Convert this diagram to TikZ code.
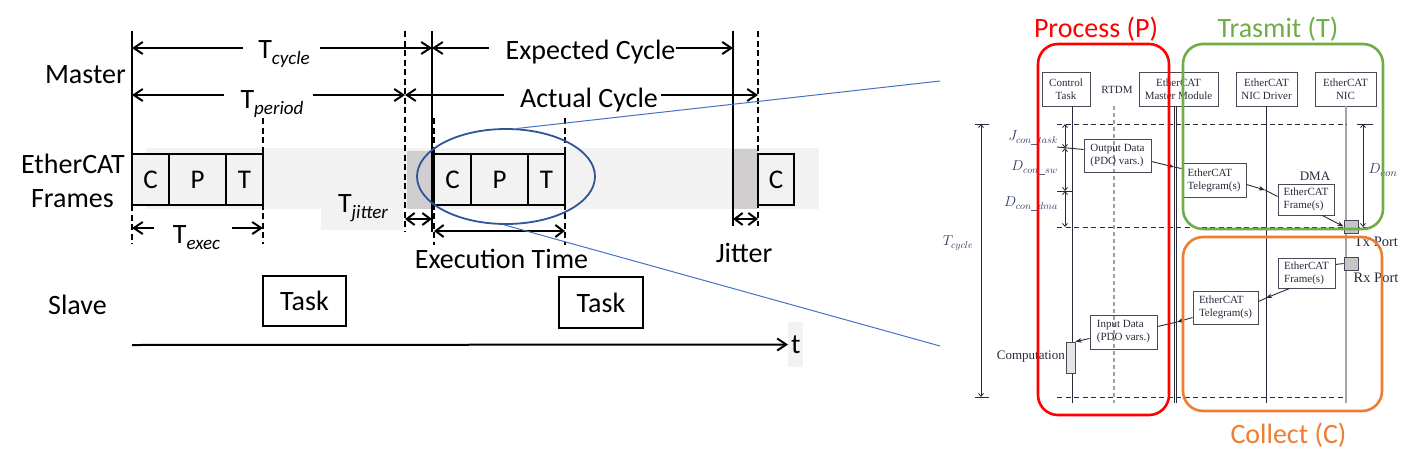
\documentclass[tikz,border=0pt]{standalone}
\usepackage[no-math]{fontspec}
\setmainfont{Carlito}
\newfontfamily\tms{Liberation Serif}
\usetikzlibrary{arrows.meta,calc,shapes.geometric}
\definecolor{band}{HTML}{F2F2F2}
\definecolor{dband}{HTML}{D0CECE}
\definecolor{ellc}{HTML}{2F5597}
\definecolor{zoomln}{HTML}{4472C4}
\definecolor{pgreen}{HTML}{70AD47}
\definecolor{porange}{HTML}{ED7D31}
\definecolor{scan}{RGB}{40,42,58}
\definecolor{scanm}{RGB}{45,55,100}
\newcommand{\Tsub}[1]{T\raisebox{-6pt}{\fontsize{19}{20}\selectfont\itshape #1}}
\tikzset{
  bigtxt/.style={font=\fontsize{28}{34}\selectfont, inner sep=0pt},
  fr/.style={draw, line width=2.6pt, fill=band, minimum height=51pt, inner sep=0pt, outer sep=0pt, anchor=north west, font=\fontsize{27}{30}\selectfont},
  taskbox/.style={draw, line width=2.2pt, minimum height=50pt, inner sep=0pt, font=\fontsize{28}{30}\selectfont},
  dimarrow/.style={line width=2pt, {Straight Barb[length=8pt,width=12pt]}-{Straight Barb[length=8pt,width=12pt]}},
  tipL/.style={line width=2pt, {Straight Barb[length=9pt,width=12pt]}-},
  tipR/.style={line width=2pt, -{Straight Barb[length=9pt,width=12pt]}},
  solidv/.style={line width=2pt},
  dashv/.style={line width=1.8pt, dash pattern=on 6pt off 3.5pt},
  hdrbox/.style={draw=scan!85, line width=1pt, font=\tms\fontsize{11}{13}\selectfont, text=scan, align=center, inner sep=0pt, minimum height=34pt},
  msgbox/.style={draw=scan!85, line width=1pt, font=\tms\fontsize{11}{13}\selectfont, text=scan, align=left, inner sep=0pt},
  sctxt/.style={font=\tms\fontsize{11}{13}\selectfont, text=scan, inner sep=0pt},
  mathlbl/.style={font=\fontsize{14}{16}\selectfont, text=scanm, inner sep=0pt},
  life/.style={scan, line width=0.9pt},
  hdash/.style={scan, line width=0.8pt, dash pattern=on 5pt off 3.5pt},
  msg/.style={scan, line width=0.9pt},
  msgtip/.style={scan, line width=0.9pt, -{Stealth[length=6pt,width=4.5pt,inset=1.5pt]}},
  sdim/.style={scan, line width=0.8pt, {Straight Barb[length=3pt,width=5pt]}-{Straight Barb[length=3pt,width=5pt]}},
  port/.style={draw=scan!85, fill=gray!45, line width=0.8pt, minimum width=14pt, minimum height=13pt, inner sep=0pt},
  grp/.style={line width=2.6pt, rounded corners=20pt},
}
\begin{document}
\begin{tikzpicture}[x=1pt,y=-1pt]
\useasboundingbox (0,0) rectangle (1421,469);

% ---------------- left: timing diagram ----------------
\fill[band] (146,148) rectangle (819,209);
\fill[dband] (407,151) rectangle (432,209);
\fill[dband] (733,149) rectangle (758,209);
\fill[band] (321,209) rectangle (403,230);

% frames
\node[fr, minimum width=37pt] (c1) at (132,154) {C};
\node[fr, minimum width=57pt] (p1) at (169,154) {P};
\node[fr, minimum width=37pt] (t1) at (226,154) {T};
\node[fr, minimum width=37pt] (c2) at (434,154) {C};
\node[fr, minimum width=57pt] (p2) at (471,154) {P};
\node[fr, minimum width=37pt] (t2) at (528,154) {T};
\node[fr, minimum width=36pt] (c3) at (758,154) {C};

% vertical markers
\coordinate (a0) at (132,31); \coordinate (a1) at (132,205); \coordinate (a2) at (132,244);
\draw[solidv] (a0) -- (a1); \draw[dashv] (a1) -- (a2);
\coordinate (b0) at (405,31); \coordinate (b1) at (405,232);
\draw[dashv] (b0) -- (b1);
\coordinate (k0) at (432,31); \coordinate (k1) at (432,232);
\draw[solidv] (k0) -- (k1);
\coordinate (d1a) at (263,118); \coordinate (d1b) at (263,244);
\draw[dashv] (d1a) -- (d1b);
\coordinate (d2a) at (434,118); \coordinate (d2b) at (434,245);
\draw[dashv] (d2a) -- (d2b);
\coordinate (d3a) at (565,118); \coordinate (d3b) at (565,245);
\draw[dashv] (d3a) -- (d3b);
\coordinate (m0) at (733,31); \coordinate (m1) at (733,226);
\draw[solidv] (m0) -- (m1);
\coordinate (n0) at (758,31); \coordinate (n1) at (758,226);
\draw[dashv] (n0) -- (n1);

% dimension arrows with labels
\coordinate (tc0) at (132,48); \coordinate (tc1) at (432,48);
\node[bigtxt, anchor=base] (ltc) at (284,58) {\Tsub{cycle}};
\draw[tipL] (tc0) -- ($(ltc.west |- tc0)+(-15,0)$);
\draw[tipR] ($(ltc.east |- tc0)+(10,0)$) -- (tc1);

\coordinate (tp0) at (132,95); \coordinate (tp1) at (405,95);
\node[bigtxt, anchor=base] (ltp) at (272,108) {\Tsub{period}};
\draw[tipL] (tp0) -- ($(ltp.west |- tp0)+(-16,0)$);
\draw[tipR] ($(ltp.east |- tp0)+(9,0)$) -- (tp1);

\coordinate (ec0) at (432,48); \coordinate (ec1) at (733,48);
\node[bigtxt, anchor=base] (lec) at (590.5,59) {Expected Cycle};
\draw[tipL] (ec0) -- ($(lec.west |- ec0)+(-16,0)$);
\draw[tipR] (lec.east |- ec0) -- (ec1);

\coordinate (ac0) at (405,95); \coordinate (ac1) at (758,95);
\node[bigtxt, anchor=base] (lac) at (589,107) {Actual Cycle};
\draw[tipL] (ac0) -- ($(lac.west |- ac0)+(-16,0)$);
\draw[tipR] ($(lac.east |- ac0)+(3,0)$) -- (ac1);

\coordinate (tx0) at (132,228); \coordinate (tx1) at (263,228);
\node[bigtxt, anchor=base] (ltx) at (196.5,243) {\Tsub{exec}};
\draw[tipL] (tx0) -- ($(ltx.west |- tx0)+(-19,0)$);
\draw[tipR] ($(ltx.east |- tx0)+(12,0)$) -- (tx1);

\coordinate (tj0) at (405,219); \coordinate (tj1) at (432,219);
\draw[dimarrow] (tj0) -- (tj1);
\node[bigtxt, anchor=base] (ltj) at (363,212) {\Tsub{jitter}};

\coordinate (et0) at (434,231); \coordinate (et1) at (565,231);
\draw[dimarrow] (et0) -- (et1);
\node[bigtxt, anchor=base] (let) at (501.5,268) {Execution Time};

\coordinate (jt0) at (733,219); \coordinate (jt1) at (758,219);
\draw[dimarrow] (jt0) -- (jt1);
\node[bigtxt, anchor=base] (ljt) at (744,262) {Jitter};

% row labels
\node[bigtxt, anchor=base east] (master) at (126,83) {Master};
\node[bigtxt, anchor=base] (eth) at (73,173) {EtherCAT};
\node[bigtxt, anchor=base] (frm) at (72.5,207) {Frames};
\node[bigtxt, anchor=base] (slave) at (77.5,314) {Slave};

% slave tasks
\node[taskbox, minimum width=83pt] (task1) at (304.5,301) {Task};
\node[taskbox, minimum width=84pt, minimum height=51pt] (task2) at (601,302.5) {Task};

% time axis
\coordinate (ax0) at (132,345);
\node[bigtxt, fill=band, minimum width=15pt, minimum height=45pt, anchor=west] (tl) at (788,344.5) {t};
\draw[tipR] (ax0) -- (tl.west);

% zoom ellipse and lines
\node[draw=ellc, line width=1.8pt, ellipse, minimum width=178pt, minimum height=95pt, inner sep=0pt] (zell) at (506,176.5) {};
\coordinate (zr1) at (940,81); \coordinate (zr2) at (940,346);
\draw[zoomln, line width=1pt] (zell.77) -- (zr1);
\draw[zoomln, line width=1pt] (zell.268) -- (zr2);

% ---------------- right: sequence diagram ----------------
\node[hdrbox, minimum width=48pt] (ctl) at (1066,89) {Control\\Task};
\node[sctxt] (rtdm) at (1117,90) {RTDM};
\node[hdrbox, minimum width=79pt] (mm) at (1178.5,89) {EtherCAT\\Master Module};
\node[hdrbox, minimum width=61pt] (drv) at (1266.5,89) {EtherCAT\\NIC Driver};
\node[hdrbox, minimum width=61pt] (nic) at (1345.5,89) {EtherCAT\\NIC};

% lifelines
\coordinate (lc0) at (1072,106); \coordinate (lc1) at (1072,403);
\draw[life] (lc0) -- (lc1);
\coordinate (lr0) at (1114,106); \coordinate (lr1) at (1114,403);
\draw[gray!75, line width=1.3pt, dash pattern=on 4pt off 3pt] (lr0) -- (lr1);
\coordinate (lm0) at (1174.3,106); \coordinate (lm1) at (1174.3,403);
\coordinate (lm2) at (1176.5,106); \coordinate (lm3) at (1176.5,403);
\draw[life, line width=0.7pt] (lm0) -- (lm1);
\draw[life, line width=0.7pt] (lm2) -- (lm3);
\coordinate (ld0) at (1266,106); \coordinate (ld1) at (1266,403);
\draw[life] (ld0) -- (ld1);
\coordinate (ln0) at (1346,106); \coordinate (ln1) at (1346,403);
\draw[gray!70, line width=1.8pt] (ln0) -- (ln1);

% dashed time levels
\coordinate (h1a) at (1057,124); \coordinate (h1b) at (1347,124);
\coordinate (h1c) at (1357,124); \coordinate (h1d) at (1373,124);
\coordinate (h2a) at (1057,227); \coordinate (h2b) at (1373,227);
\coordinate (h3a) at (1057,397); \coordinate (h3b) at (1346,397);
\draw[hdash] (h1a) -- (h1b);
\draw[scan, line width=0.8pt] (h1c) -- (h1d);
\draw[hdash] (h2a) -- (h2b);
\draw[hdash] (h3a) -- (h3b);

% T_cycle
\coordinate (tcy0) at (981,124); \coordinate (tcy1) at (981,397);
\coordinate (tk0a) at (975,124); \coordinate (tk0b) at (989,124);
\coordinate (tk1a) at (975,397); \coordinate (tk1b) at (989,397);
\draw[scan, line width=0.8pt] (tk0a) -- (tk0b);
\draw[scan, line width=0.8pt] (tk1a) -- (tk1b);
\draw[sdim] (tcy0) -- (tcy1);
\node[mathlbl] (ltcy) at (958,243) {$T_{cycle}$};

% J / D con
\coordinate (jd0) at (1065,124); \coordinate (jd1) at (1065,148);
\coordinate (jd2) at (1065,191); \coordinate (jd3) at (1065,227);
\coordinate (tk2a) at (1057,191); \coordinate (tk2b) at (1072,191);
\draw[scan, line width=0.8pt] (tk2a) -- (tk2b);
\draw[sdim] (jd0) -- (jd1);
\draw[sdim] (jd1) -- (jd2);
\draw[sdim] (jd2) -- (jd3);
\node[mathlbl, anchor=east] (ljct) at (1058,138) {$J_{con\_task}$};
\node[mathlbl, anchor=east] (ldsw) at (1058,168) {$D_{con\_sw}$};
\node[mathlbl, anchor=east] (lddma) at (1058,204) {$D_{con\_dma}$};

% transmit chain
\node[msgbox, minimum width=67pt, minimum height=33pt] (odb) at (1117.5,155.5) {Output Data\\(PDO vars.)};
\coordinate (jtick) at (1057,147);
\draw[msg] (jtick) -- ($(odb.north west)+(0,11)$);
\node[msgbox, minimum width=64pt, minimum height=34pt] (tg1) at (1214,180) {EtherCAT\\Telegram(s)};
\coordinate (mmhit1) at (1174,167);
\draw[msgtip] ($(odb.north east)+(0,23)$) -- (mmhit1);
\draw[msg] (mmhit1) -- ($(tg1.north west)+(0,6)$);
\node[msgbox, minimum width=56pt, minimum height=31pt] (fb1) at (1306,199.5) {EtherCAT\\Frame(s)};
\coordinate (drvhit1) at (1265,190);
\draw[msgtip] ($(tg1.north east)+(0,22)$) -- (drvhit1);
\draw[msg] (drvhit1) -- ($(fb1.north west)+(0,13)$);
\node[font=\tms\fontsize{13}{15}\selectfont, text=scan, inner sep=0pt] (dma) at (1315,176) {DMA};
\node[port] (tx) at (1351,226.5) {};
\draw[msgtip] ($(fb1.south east)+(-12,0)$) -- (tx.west);
\node[font=\tms\fontsize{14.5}{16}\selectfont, text=scan, inner sep=0pt] (txl) at (1376,242) {Tx Port};
\coordinate (dc0) at (1363,124); \coordinate (dc1) at (1363,227);
\draw[sdim] (dc0) -- (dc1);
\node[mathlbl, font=\fontsize{15}{17}\selectfont] (ldc) at (1383,170) {$D_{con}$};

% collect chain
\node[port] (rx) at (1351,263.5) {};
\node[font=\tms\fontsize{14.5}{16}\selectfont, text=scan, inner sep=0pt] (rxl) at (1376,278) {Rx Port};
\node[msgbox, minimum width=57pt, minimum height=30pt] (fb2) at (1306.5,273) {EtherCAT\\Frame(s)};
\draw[msg] (rx.west) -- ($(fb2.north east)+(0,7)$);
\node[msgbox, minimum width=65pt, minimum height=33pt] (tg2) at (1225.5,307.5) {EtherCAT\\Telegram(s)};
\coordinate (drvhit2) at (1266,298);
\draw[msgtip] ($(fb2.south west)+(12,0)$) -- (drvhit2);
\draw[msg] (drvhit2) -- ($(tg2.north east)+(0,11)$);
\node[msgbox, minimum width=67pt, minimum height=34pt] (idb) at (1123.5,332) {Input Data\\(PDO vars.)};
\coordinate (mmhit2) at (1177,322);
\draw[msgtip] ($(tg2.north west)+(0,27)$) -- (mmhit2);
\draw[msg] (mmhit2) -- ($(idb.north east)+(0,12)$);
\node[draw=scan!85, fill=gray!20, line width=0.8pt, minimum width=9pt, minimum height=31pt, inner sep=0pt] (comp) at (1070.5,357.5) {};
\draw[msgtip] ($(idb.north west)+(0,24)$) -- (comp.north east);
\node[font=\tms\fontsize{13}{15}\selectfont, text=scan, inner sep=0pt, anchor=east] (compl) at (1065,357) {Computation};

% groups
\draw[grp, red] (1038,44) rectangle (1169,415);
\draw[grp, pgreen] (1183,44) rectangle (1383,229);
\draw[grp, porange] (1183,237) rectangle (1382,411);
\node[bigtxt, text=red, anchor=base] (gp) at (1096,37) {Process (P)};
\node[bigtxt, text=pgreen, anchor=base] (gt) at (1278,37) {Trasmit (T)};
\node[bigtxt, text=porange, anchor=base] (gc) at (1288.5,443) {Collect (C)};
\end{tikzpicture}
\end{document}
